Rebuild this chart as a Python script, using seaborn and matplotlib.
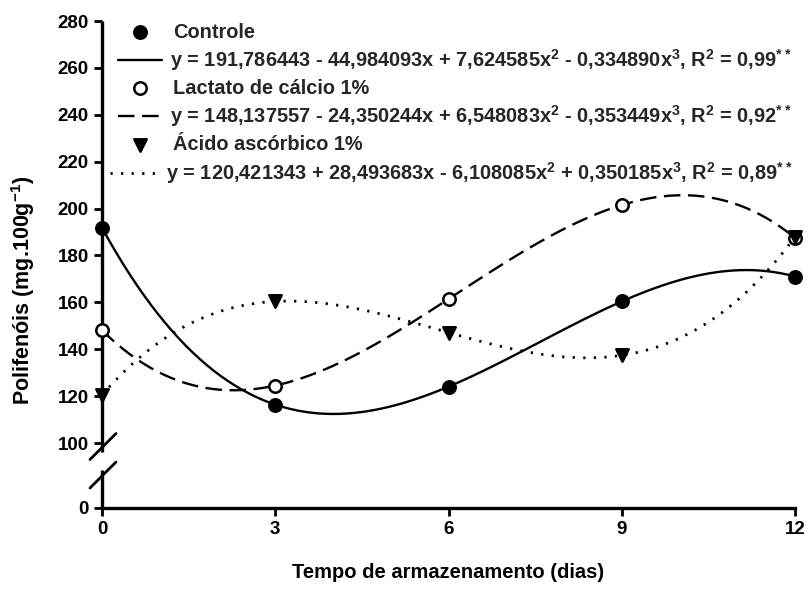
import numpy as np
import pandas as pd
import matplotlib
matplotlib.use("Agg")
import matplotlib.pyplot as plt
import seaborn as sns
from matplotlib.lines import Line2D

# ---------------- data ----------------
days = [0, 3, 6, 9, 12]
controle = [191.8, 116.4, 124.0, 160.4, 171.0]
lactato = [148.1, 124.5, 161.4, 201.5, 187.5]
acido = [120.4, 160.4, 147.1, 137.4, 187.9]

series_names = ["Controle", "Lactato de cálcio 1%", "Ácido ascórbico 1%"]
equations = [
    "y = 191,786443 - 44,984093x + 7,624585x$^2$ - 0,334890x$^3$, R$^2$ = 0,99$^{**}$",
    "y = 148,137557 - 24,350244x + 6,548083x$^2$ - 0,353449x$^3$, R$^2$ = 0,92$^{**}$",
    "y = 120,421343 + 28,493683x - 6,108085x$^2$ + 0,350185x$^3$, R$^2$ = 0,89$^{**}$",
]
x_ticks = [0, 3, 6, 9, 12]
y_ticks = [100, 120, 140, 160, 180, 200, 220, 240, 260, 280]
y_tick_labels = ["100", "120", "140", "160", "180", "200", "220", "240", "260", "280"]
zero_label = "0"
x_label = "Tempo de armazenamento (dias)"
y_label = "Polifenóis (mg.100g$^{-1}$)"

# ---------------- style ----------------
sns.set_theme(style="white")
plt.rcParams["font.family"] = ["Liberation Sans", "DejaVu Sans"]
plt.rcParams["font.weight"] = "bold"
plt.rcParams["mathtext.default"] = "regular"

W, H = 808, 590
fig = plt.figure(figsize=(W / 100, H / 100), dpi=100)
L, R, T, B = 102, 795, 21, 508
ax = fig.add_axes([L / W, 1 - B / H, (R - L) / W, (B - T) / H])

# position of the "0" below the axis break (axis is broken between 0 and 100)
px_per_unit = (443 - T) / (280 - 100)
zero_pos = 100 - (B - 443) / px_per_unit

def axf(px, py):
    return (px - L) / (R - L), (B - py) / (B - T)

styles = [
    dict(marker="o", face="black", ls="-", lw=1.7),
    dict(marker="o", face="white", ls=(0, (7, 3.2)), lw=1.7),
    dict(marker="v", face="black", ls=(0, (0.8, 3.0)), lw=2.0),
]
data = [controle, lactato, acido]

for vals, st in zip(data, styles):
    sns.regplot(x=days, y=vals, order=3, ci=None, scatter=False, truncate=True, ax=ax,
                line_kws=dict(color="black", lw=st["lw"], linestyle=st["ls"]))
    sns.scatterplot(x=days, y=vals, marker=st["marker"], s=80, color=st["face"],
                    edgecolor="black", linewidth=1.8, ax=ax, zorder=5, clip_on=False)

ax.set_xlim(0, 12)
ax.set_ylim(zero_pos, 280)
ax.set_xticks(x_ticks)
ax.set_xticklabels([str(t) for t in x_ticks])
ax.set_yticks([zero_pos] + y_ticks)
ax.set_yticklabels([zero_label] + y_tick_labels)
ax.tick_params(axis="both", direction="out", length=6, width=2, labelsize=13.5,
               colors="black", bottom=True, left=True)
for lab in ax.get_xticklabels() + ax.get_yticklabels():
    lab.set_fontweight("bold")

for s in ["top", "right", "left"]:
    ax.spines[s].set_visible(False)
ax.spines["bottom"].set_linewidth(2.4)
ax.spines["bottom"].set_color("black")

# left spine with a break
gap_lo = axf(L, 470)[1]
gap_hi = axf(L, 452)[1]
for y0, y1 in [(0, gap_lo), (gap_hi, 1)]:
    ax.add_line(Line2D([0, 0], [y0, y1], transform=ax.transAxes, color="black",
                       lw=2.4, clip_on=False, solid_capstyle="butt"))
for cy in [446.5, 475]:
    x0, y0 = axf(L - 12, cy + 13)
    x1, y1 = axf(L + 14, cy - 13)
    ax.add_line(Line2D([x0, x1], [y0, y1], transform=ax.transAxes, color="black",
                       lw=2.0, clip_on=False))

ax.set_xlabel(x_label, fontsize=14.5, fontweight="bold", labelpad=18, color="black")
ax.set_ylabel(y_label, fontsize=15.5, fontweight="bold", color="black")
ax.yaxis.set_label_coords(axf(37, 0)[0], axf(L, 290)[1])

# legend drawn inside the axes
rows = [32, 60, 88, 116, 145, 173]
for i in range(3):
    st = styles[i]
    my = rows[2 * i]
    ly = rows[2 * i + 1]
    mx, myf = axf(140, my)
    ax.scatter([mx], [myf], transform=ax.transAxes, marker=st["marker"], s=80,
               color=st["face"], edgecolor="black", linewidth=1.8, clip_on=False, zorder=6)
    tx, tyf = axf(173, my)
    ax.text(tx, tyf, series_names[i], transform=ax.transAxes, fontsize=14.4,
            fontweight="bold", va="center", ha="left")
    if i < 2:
        hx0, hx1, ex = 118, 162, 170
    else:
        hx0, hx1, ex = 110, 158, 166
    a0, b0 = axf(hx0, ly)
    a1, _ = axf(hx1, ly)
    ax.add_line(Line2D([a0, a1], [b0, b0], transform=ax.transAxes, color="black",
                       lw=st["lw"], linestyle=st["ls"], clip_on=False))
    ex_, ey_ = axf(ex, ly)
    ax.text(ex_, ey_, equations[i], transform=ax.transAxes, fontsize=14.4,
            fontweight="bold", va="center", ha="left")

fig.savefig("out.png", dpi=100)
